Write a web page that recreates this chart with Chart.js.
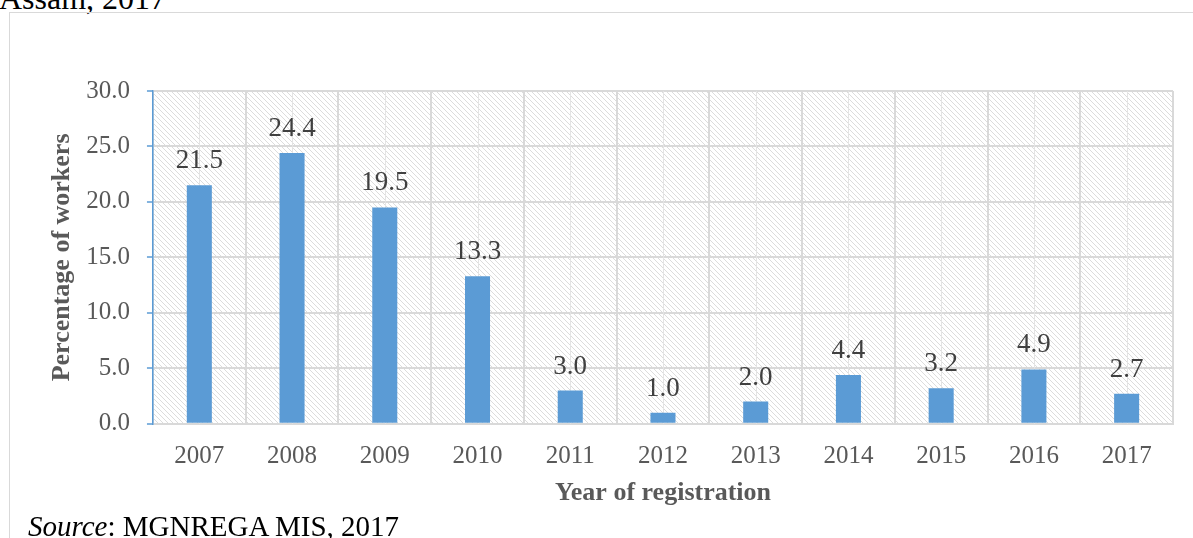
<!DOCTYPE html>
<html>
<head>
<meta charset="utf-8">
<script src="https://cdn.jsdelivr.net/npm/chart.js@4.4.1/dist/chart.umd.min.js"></script>
<style>
  html, body { margin: 0; padding: 0; background: #fff; }
  body { width: 1193px; height: 538px; position: relative; overflow: hidden;
         font-family: "Liberation Serif", "Times New Roman", serif; }
  #heading { position: absolute; left: -1px; top: -18px; font-size: 32px; line-height: 32px; color: #000; white-space: nowrap; }
  #frame { position: absolute; left: 9px; top: 12px; width: 1300px; height: 600px;
           border-top: 1.5px solid #d9d9d9; border-left: 1.5px solid #d9d9d9; }
  #wrap { position: absolute; left: 0; top: 0; width: 1193px; height: 538px; }
  #source { position: absolute; left: 28px; top: 512px; font-size: 29px; line-height: 29px; color: #000; white-space: nowrap; }
</style>
</head>
<body>
<div id="heading">Assam, 2017</div>
<div id="frame"></div>
<div id="wrap"><canvas id="c"></canvas></div>
<div id="source"><i>Source</i>: MGNREGA MIS, 2017</div>
<script>
// Registration year and share of workers (%)
const years = ["2007", "2008", "2009", "2010", "2011", "2012", "2013", "2014", "2015", "2016", "2017"];
const shares = [21.5, 24.4, 19.5, 13.3, 3.0, 1.0, 2.0, 4.4, 3.2, 4.9, 2.7];
const yTicks = [0, 5, 10, 15, 20, 25, 30];

const FONT = "'Liberation Serif', 'Times New Roman', serif";

// Diagonal hatch used to fill the plot area
function makeHatch() {
  const s = 5;
  const t = document.createElement('canvas');
  t.width = s; t.height = s;
  const g = t.getContext('2d');
  g.fillStyle = '#ffffff';
  g.fillRect(0, 0, s, s);
  g.strokeStyle = '#dcdcdc';
  g.lineWidth = 1;
  g.beginPath();
  g.moveTo(0, 0); g.lineTo(s, s);
  g.moveTo(-s, 0); g.lineTo(s, 2 * s);
  g.moveTo(0, -s); g.lineTo(2 * s, s);
  g.stroke();
  return t;
}

const plotBackground = {
  id: 'plotBackground',
  beforeDraw(chart) {
    const { ctx, chartArea: a } = chart;
    ctx.save();
    ctx.fillStyle = ctx.createPattern(makeHatch(), 'repeat');
    ctx.fillRect(a.left, a.top, a.right - a.left, a.bottom - a.top);
    ctx.restore();
  }
};

// Lighter gridlines through each category centre
const centreLines = {
  id: 'centreLines',
  beforeDatasetsDraw(chart) {
    const { ctx, chartArea: a, scales } = chart;
    const x = scales.x;
    ctx.save();
    ctx.strokeStyle = '#e4e4e4';
    ctx.lineWidth = 1;
    years.forEach((_, i) => {
      const px = Math.round(x.getPixelForValue(i)) + 0.5;
      ctx.beginPath();
      ctx.moveTo(px, a.top);
      ctx.lineTo(px, a.bottom);
      ctx.stroke();
    });
    ctx.restore();
  }
};

// Value labels above each bar
const valueLabels = {
  id: 'valueLabels',
  afterDatasetsDraw(chart) {
    const { ctx } = chart;
    const meta = chart.getDatasetMeta(0);
    ctx.save();
    ctx.fillStyle = '#404040';
    ctx.font = '27px ' + FONT;
    ctx.textAlign = 'center';
    ctx.textBaseline = 'alphabetic';
    meta.data.forEach((bar, i) => {
      ctx.fillText(shares[i].toFixed(1), bar.x, bar.y - 17);
    });
    ctx.restore();
  }
};

new Chart(document.getElementById('c'), {
  type: 'bar',
  data: {
    labels: years,
    datasets: [{
      data: shares,
      backgroundColor: '#5b9bd5',
      borderWidth: 0,
      barPercentage: 0.27,
      categoryPercentage: 1.0
    }]
  },
  options: {
    responsive: true,
    maintainAspectRatio: false,
    animation: false,
    layout: { padding: { left: 47, right: 20, top: 91, bottom: 29 } },
    plugins: { legend: { display: false }, tooltip: { enabled: false } },
    scales: {
      x: {
        offset: true,
        grid: { display: true, offset: true, color: '#d9d9d9', lineWidth: 2, drawTicks: false },
        border: { display: true, color: '#d9d9d9', width: 2 },
        ticks: { color: '#595959', font: { family: FONT, size: 25 }, padding: 18 },
        title: { display: true, text: 'Year of registration', color: '#595959',
                 font: { family: FONT, size: 26, weight: 'bold' }, padding: { top: -12, bottom: 0 } }
      },
      y: {
        min: 0, max: 30,
        afterBuildTicks(scale) { scale.ticks = yTicks.map(v => ({ value: v })); },
        grid: { color: '#d9d9d9', lineWidth: 2, tickColor: '#5b9bd5', tickLength: 6, tickWidth: 1.5 },
        border: { display: true, color: '#5b9bd5', width: 1.5 },
        ticks: { color: '#595959', font: { family: FONT, size: 25 }, padding: 17,
                 callback: v => Number(v).toFixed(1) },
        title: { display: true, text: 'Percentage of workers', color: '#595959',
                 font: { family: FONT, size: 26, weight: 'bold' }, padding: { top: 0, bottom: -9 } }
      }
    }
  },
  plugins: [plotBackground, centreLines, valueLabels]
});
</script>
</body>
</html>
